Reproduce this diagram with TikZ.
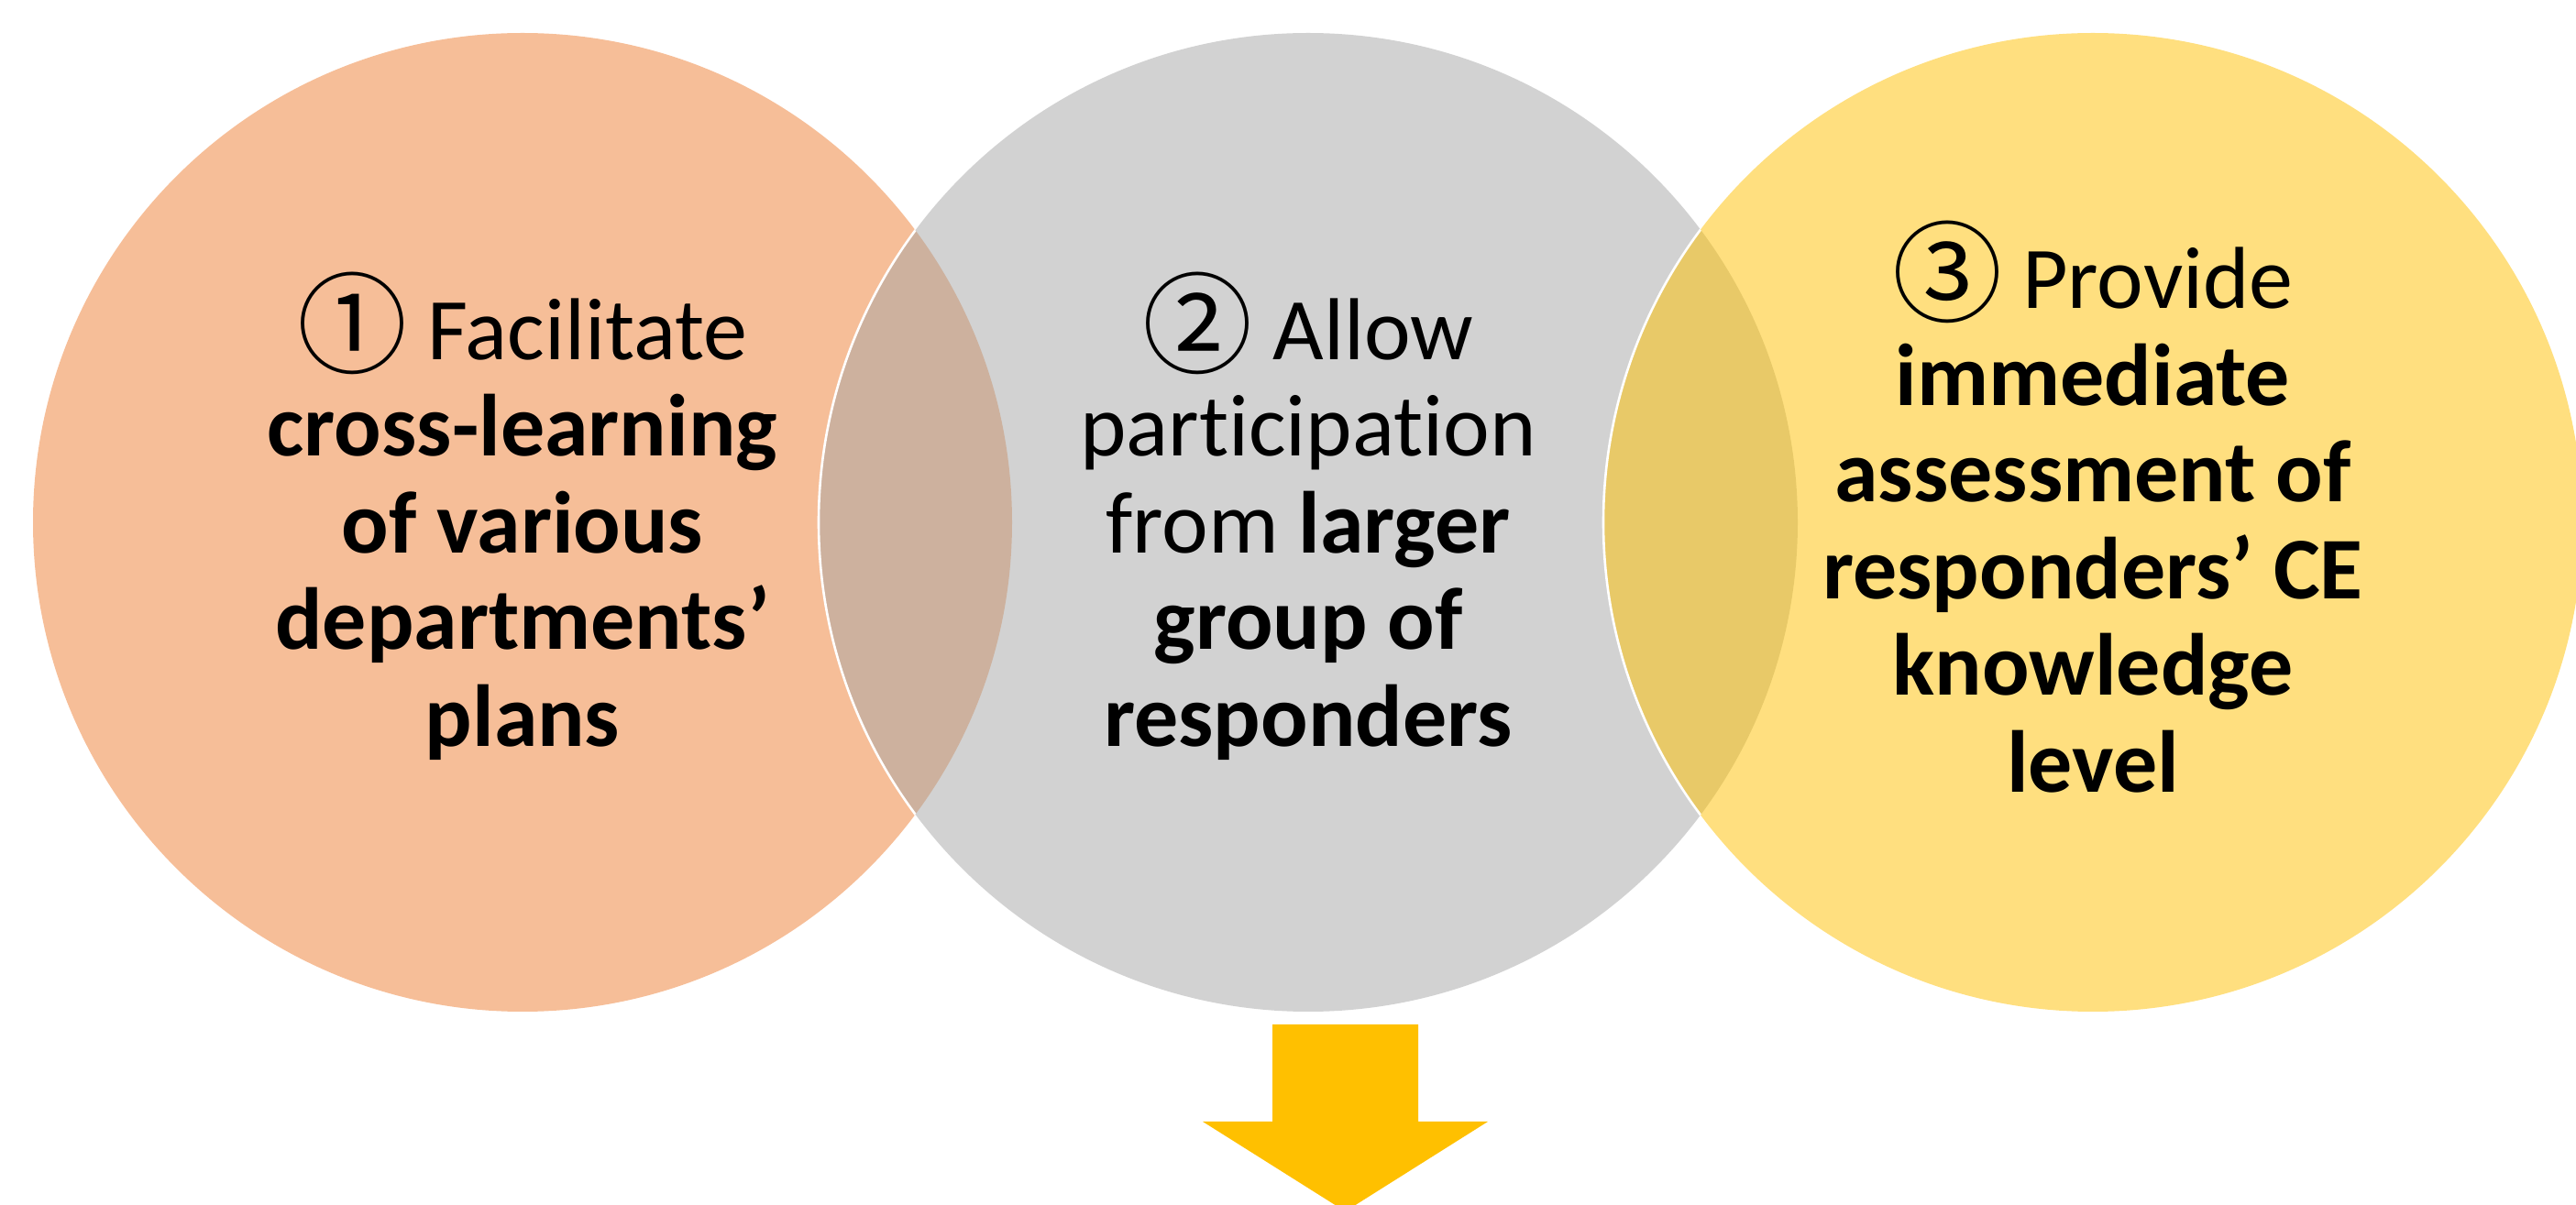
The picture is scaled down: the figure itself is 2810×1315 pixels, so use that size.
\documentclass[tikz,border=0pt]{standalone}
\usepackage{fontspec}
\setmainfont{Carlito}[Ligatures=NoCommon]
\newfontfamily\cjk{Noto Sans CJK JP}
\definecolor{vennorange}{HTML}{ED7D31}
\definecolor{venngray}{HTML}{A5A5A5}
\definecolor{venngold}{HTML}{FFC000}
\definecolor{arrowgold}{HTML}{FFC000}
\newcommand{\circnum}[1]{\raisebox{-1.5pt}{\cjk\fontsize{30}{26.3}\selectfont #1}}
\begin{document}
\begin{tikzpicture}[x=0.25pt,y=-0.25pt,
  vennfill/.style={fill opacity=0.5},
  vennline/.style={draw=white,line width=0.65pt},
  vennlabel/.style={align=center,font=\fontsize{24}{26.4}\selectfont,text=black,inner sep=0pt},
  bigarrow/.style={fill=arrowgold}]
\useasboundingbox (0,0) rectangle (2810,1315);
\clip (0,0) rectangle (2810,1315);
\coordinate (c1) at (570,570);
\coordinate (c2) at (1427,570);
\coordinate (c3) at (2283,570);
% fills
\fill[vennorange,vennfill] (c1) circle[radius=534];
\fill[venngray,vennfill] (c2) circle[radius=534];
\fill[venngold,vennfill] (c3) circle[radius=534];
% white outlines where visible
\begin{scope}
  \clip (c1) circle[radius=534];
  \draw[vennline] (c2) circle[radius=534];
\end{scope}
\begin{scope}
  \clip (c2) circle[radius=534];
  \draw[vennline] (c3) circle[radius=534];
\end{scope}
% labels
\node[vennlabel] (t1) at (570,563) {\circnum{①} Facilitate\\\textbf{cross-learning}\\\textbf{of various}\\\textbf{departments’}\\\textbf{plans}};
\node[vennlabel] (t2) at (1427,563) {\circnum{②} Allow\\participation\\from \textbf{larger}\\\textbf{group of}\\\textbf{responders}};
\node[vennlabel] (t3) at (2283,553) {\circnum{③} Provide\\\textbf{immediate}\\\textbf{assessment of}\\\textbf{responders’ CE}\\\textbf{knowledge}\\\textbf{level}};
% arrow
\fill[bigarrow] (1388,1118) -- (1547,1118) -- (1547,1224) -- (1623,1224) -- (1467.5,1322) -- (1312,1224) -- (1388,1224) -- cycle;
\end{tikzpicture}
\end{document}
